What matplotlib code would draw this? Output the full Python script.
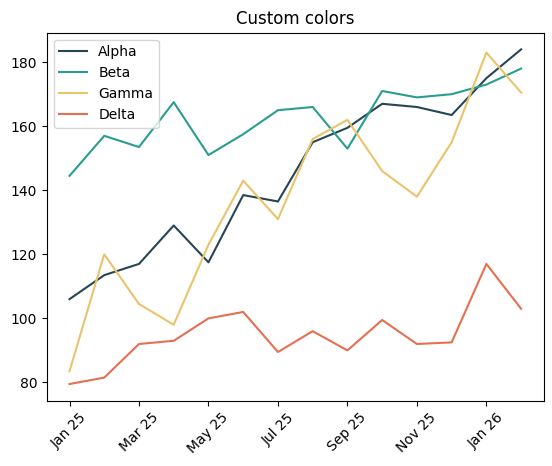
import matplotlib
matplotlib.use("Agg")
import matplotlib.pyplot as plt
import pandas as pd

months = pd.date_range("2025-01-01", periods=14, freq="MS")
alpha = [106, 113.5, 117, 129, 117.5, 138.5, 136.5, 155, 159.5, 167, 166, 163.5, 175, 184]
beta = [144.5, 157, 153.5, 167.5, 151, 157.5, 165, 166, 153, 171, 169, 170, 173, 178]
gamma = [83.5, 120, 104.5, 98, 123, 143, 131, 156, 162, 146, 138, 155, 183, 170.5]
delta = [79.5, 81.5, 92, 93, 100, 102, 89.5, 96, 90, 99.5, 92, 92.5, 117, 103]
names = ["Alpha", "Beta", "Gamma", "Delta"]
colors = ["#264653", "#2a9d8f", "#e9c46a", "#e76f51"]

fig, ax = plt.subplots(figsize=(5.52, 4.66), dpi=100)
x = list(range(len(months)))
for vals, n, c in zip([alpha, beta, gamma, delta], names, colors):
    ax.plot(x, vals, color=c, label=n, lw=1.5)
ax.set_xticks(x[::2])
ax.set_xticklabels([m.strftime("%b %y") for m in months[::2]], rotation=45)
ax.set_title("Custom colors")
ax.legend(loc="upper left")
fig.subplots_adjust(left=0.085, right=0.985, top=0.93, bottom=0.14)
fig.savefig("out.png")
